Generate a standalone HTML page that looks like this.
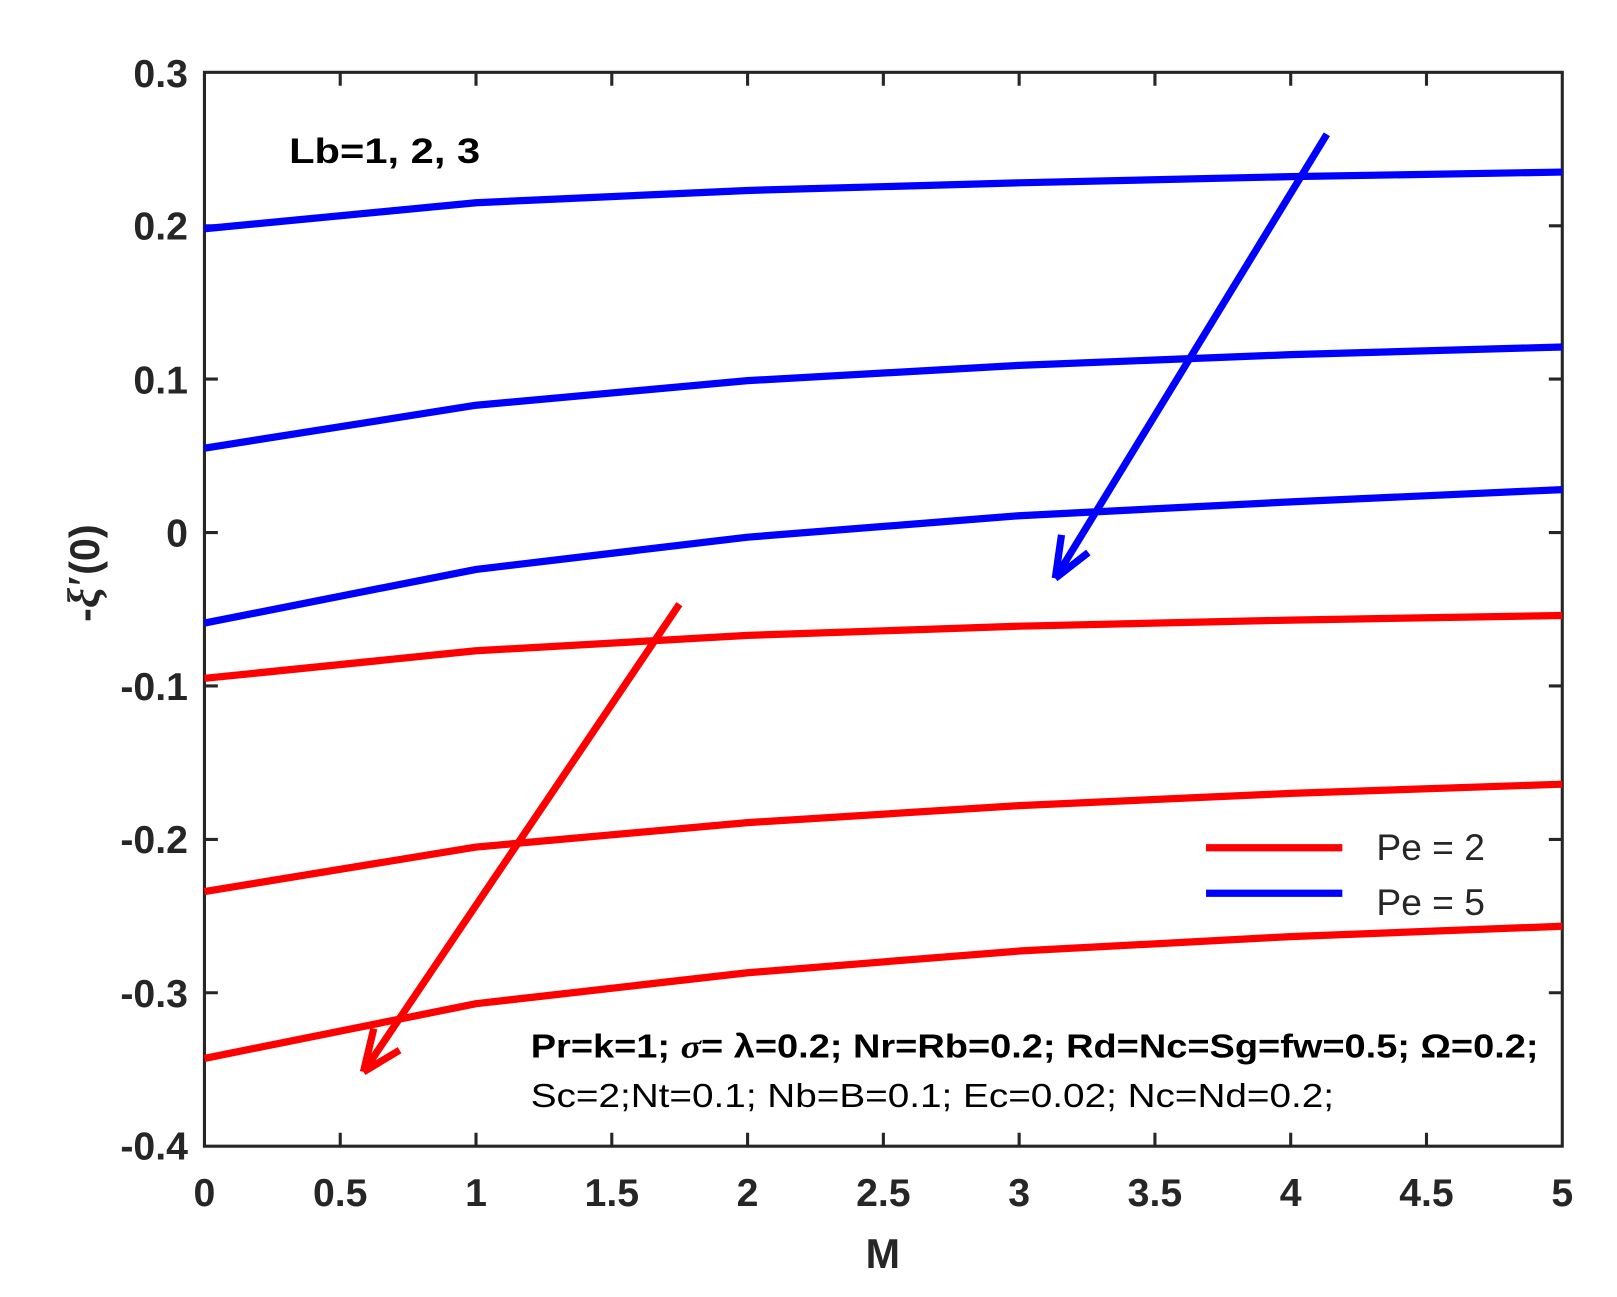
<!DOCTYPE html>
<html><head><style>html,body{margin:0;padding:0;background:#fff}svg{display:block}</style></head><body>
<svg width="1617" height="1297" viewBox="0 0 1566 1256" xmlns="http://www.w3.org/2000/svg" font-family="Liberation Sans, sans-serif" font-weight="bold" fill="#262626">
<rect width="1566" height="1256" fill="#fff"/>
<g stroke="#262626" stroke-width="3" fill="none">
<rect x="198" y="70" width="1315" height="1040"/>
<path d="M329.5,1110v-13 M461,1110v-13 M592.5,1110v-13 M724,1110v-13 M855.5,1110v-13 M987,1110v-13 M1118.5,1110v-13 M1250,1110v-13 M1381.5,1110v-13
M329.5,70v13 M461,70v13 M592.5,70v13 M724,70v13 M855.5,70v13 M987,70v13 M1118.5,70v13 M1250,70v13 M1381.5,70v13
M198,218.6h13 M198,367.1h13 M198,515.7h13 M198,664.3h13 M198,812.9h13 M198,961.4h13
M1513,218.6h-13 M1513,367.1h-13 M1513,515.7h-13 M1513,664.3h-13 M1513,812.9h-13 M1513,961.4h-13"/>
</g>
<g font-size="38" text-anchor="middle">
<text x="198" y="1168">0</text><text x="329.5" y="1168">0.5</text><text x="461" y="1168">1</text><text x="592.5" y="1168">1.5</text><text x="724" y="1168">2</text><text x="855.5" y="1168">2.5</text><text x="987" y="1168">3</text><text x="1118.5" y="1168">3.5</text><text x="1250" y="1168">4</text><text x="1381.5" y="1168">4.5</text><text x="1513" y="1168">5</text>
</g>
<g font-size="38" text-anchor="end">
<text x="182" y="84">0.3</text><text x="182" y="232">0.2</text><text x="182" y="381">0.1</text><text x="182" y="529">0</text><text x="182" y="678">-0.1</text><text x="182" y="826">-0.2</text><text x="182" y="975">-0.3</text><text x="182" y="1123">-0.4</text>
</g>
<text x="855" y="1228" font-size="40" text-anchor="middle">M</text>
<text transform="translate(96,555) rotate(-90)" font-size="40" text-anchor="middle">-<tspan font-style="italic" font-family="Liberation Serif, serif" font-size="44">ξ′</tspan>(0)</text>
<g fill="none" stroke-width="7" stroke-linejoin="round">
<polyline stroke="#0000ff" points="198,221.5 461,196.3 724,184.4 987,177 1250,171 1513,166.6"/>
<polyline stroke="#0000ff" points="198,434 461,392.4 724,368.6 987,353.8 1250,343.4 1513,336"/>
<polyline stroke="#0000ff" points="198,603.4 461,551.4 724,520.2 987,499.4 1250,486 1513,474.1"/>
<polyline stroke="#ff0000" points="198,656.9 461,630.2 724,615.3 987,606.4 1250,600.5 1513,596"/>
<polyline stroke="#ff0000" points="198,863.4 461,820.3 724,796.6 987,780.2 1250,768.3 1513,759.4"/>
<polyline stroke="#ff0000" points="198,1025 461,972 724,942 987,921 1250,907 1513,897"/>
<path stroke="#0000ff" d="M1285,130 L1022,560 M1022,560 L1028,518 M1022,560 L1054,535"/>
<path stroke="#ff0000" d="M658,585 L352,1038 M352,1038 L362,996 M352,1038 L387,1017"/>
<line x1="1168" y1="821" x2="1300" y2="821" stroke="#ff0000"/>
<line x1="1168" y1="865" x2="1300" y2="865" stroke="#0000ff"/>
</g>
<g font-weight="normal" font-size="36">
<text x="1333" y="833">Pe = 2</text><text x="1333" y="886">Pe = 5</text>
</g>
<text x="280" y="158" font-size="34" fill="#000" textLength="185" lengthAdjust="spacingAndGlyphs">Lb=1, 2, 3</text>
<text x="514" y="1024" font-size="32" fill="#000" textLength="976" lengthAdjust="spacingAndGlyphs">Pr=k=1; <tspan font-style="italic" font-family="Liberation Serif, serif">σ</tspan>= λ=0.2; Nr=Rb=0.2; Rd=Nc=Sg=fw=0.5; Ω=0.2;</text>
<text x="514" y="1072" font-size="32" fill="#000" font-weight="normal" textLength="778" lengthAdjust="spacingAndGlyphs">Sc=2;Nt=0.1; Nb=B=0.1; Ec=0.02; Nc=Nd=0.2;</text>
</svg>
</body></html>
